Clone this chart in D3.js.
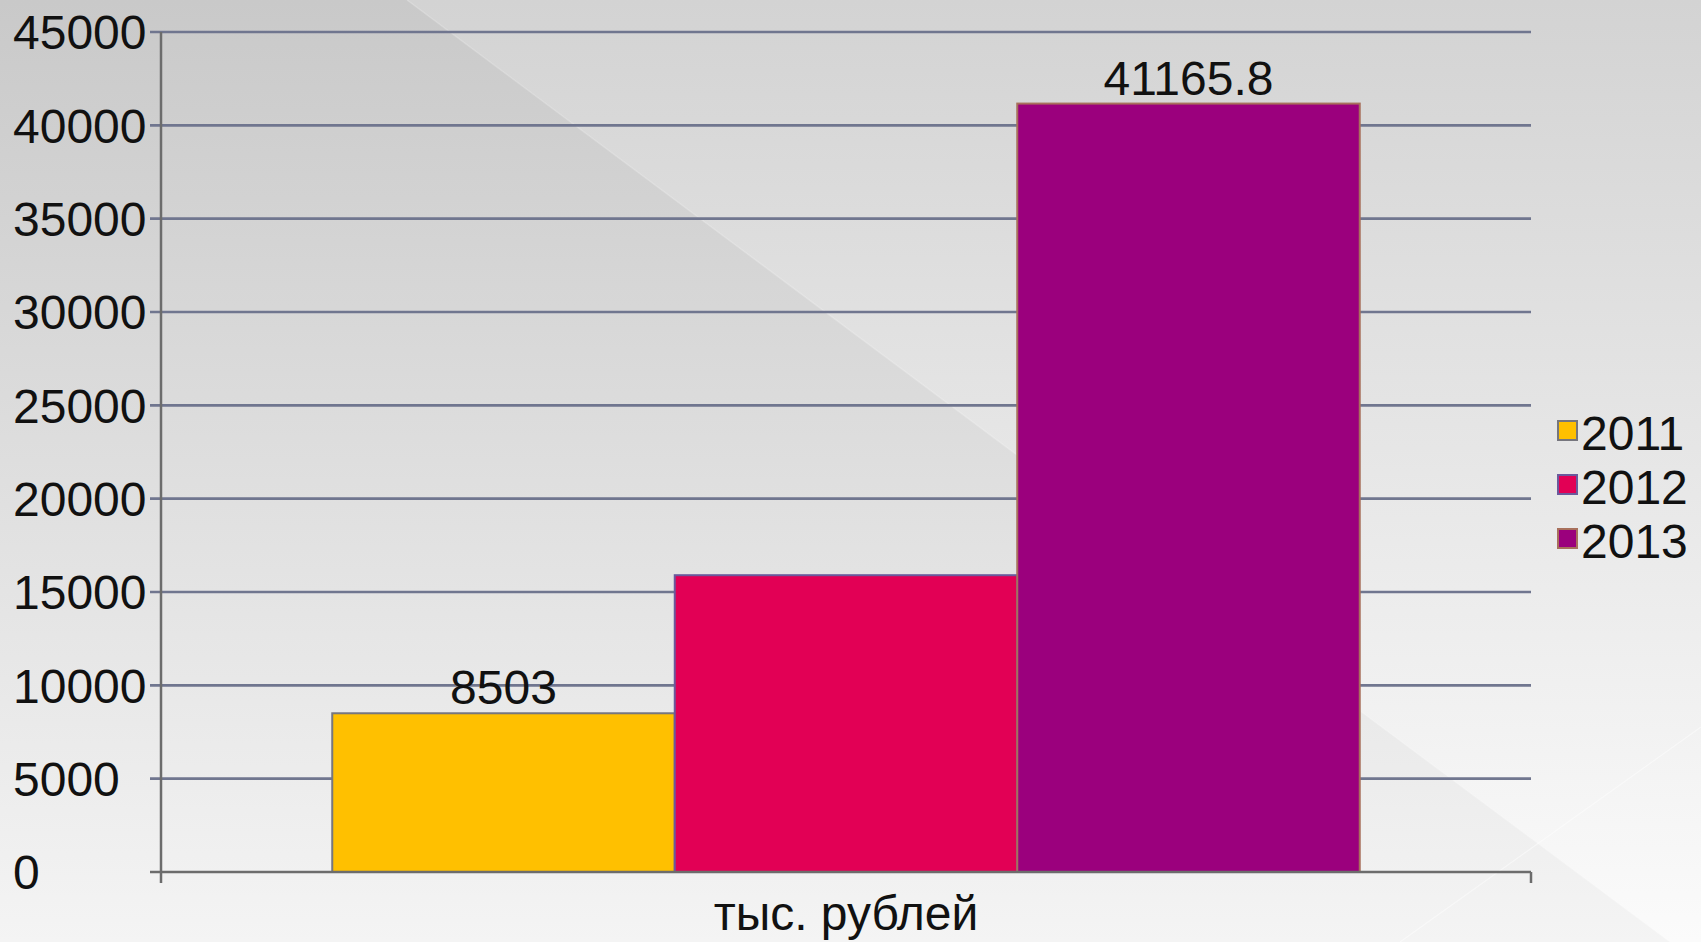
<!DOCTYPE html>
<html>
<head>
<meta charset="utf-8">
<script src="https://cdn.jsdelivr.net/npm/d3@7/dist/d3.min.js"></script>
<style>
  html, body { margin: 0; padding: 0; background: #e0e0e0; }
  svg { display: block; }
  text { font-family: "Liberation Sans", Arial, sans-serif; fill: #111; }
</style>
</head>
<body>
<script>
// ---- data ----
const categories = ["тыс. рублей"];
const years = ["2011", "2012", "2013"];
const values = [8503, 15900, 41165.8];
const showValueLabel = [true, false, true];
const valueLabels = ["8503", "15900", "41165.8"];
const yTicks = [0, 5000, 10000, 15000, 20000, 25000, 30000, 35000, 40000, 45000];
const fills = ["#FFC000", "#E20055", "#9B007D"];
const strokes = ["#76767e", "#6a5a9c", "#a8705c"];

// ---- layout ----
const W = 1701, H = 942;
const plot = { left: 161, right: 1531, top: 32, bottom: 872 };
const fontSize = 48;

const svg = d3.select("body").append("svg").attr("width", W).attr("height", H);
const defs = svg.append("defs");

// background
const g1 = defs.append("linearGradient").attr("id", "bgBase").attr("x1", 0).attr("y1", 0).attr("x2", 0).attr("y2", 1);
g1.append("stop").attr("offset", "0").attr("stop-color", "#c9c9c9");
g1.append("stop").attr("offset", "1").attr("stop-color", "#f4f4f4");
const g2 = defs.append("linearGradient").attr("id", "bgLight").attr("x1", 0).attr("y1", 0).attr("x2", 0).attr("y2", 1);
g2.append("stop").attr("offset", "0").attr("stop-color", "#d3d3d3");
g2.append("stop").attr("offset", "1").attr("stop-color", "#fbfbfb");

svg.append("rect").attr("width", W).attr("height", H).attr("fill", "url(#bgBase)");
svg.append("path")
  .attr("d", "M407,0 L1701,0 L1701,942 L1670,942 Z")
  .attr("fill", "url(#bgLight)");
svg.append("line").attr("x1", 407).attr("y1", 0).attr("x2", 1670).attr("y2", 942)
  .attr("stroke", "#ffffff").attr("stroke-opacity", 0.2).attr("stroke-width", 1.5);
svg.append("line").attr("x1", 1701).attr("y1", 727).attr("x2", 1400).attr("y2", 942)
  .attr("stroke", "#ffffff").attr("stroke-opacity", 0.45).attr("stroke-width", 1.2);

// scales
const y = d3.scaleLinear().domain([0, 45000]).range([plot.bottom, plot.top]);
const x0 = d3.scaleBand().domain(categories).range([plot.left, plot.right])
  .paddingInner(0).paddingOuter(1 / 6);
const x1 = d3.scaleBand().domain(years).range([0, x0.bandwidth()]).padding(0);

// gridlines
svg.append("g").selectAll("line").data(yTicks.filter(d => d > 0)).join("line")
  .attr("x1", plot.left - 11).attr("x2", plot.right)
  .attr("y1", d => y(d)).attr("y2", d => y(d))
  .attr("stroke", "#70768f").attr("stroke-width", 2.6);

// y tick labels (left aligned)
svg.append("g").selectAll("text").data(yTicks).join("text")
  .attr("x", 13).attr("y", d => y(d)).attr("dy", "0.36em")
  .attr("font-size", fontSize)
  .text(d => String(d));

// bars
const gBars = svg.append("g");
categories.forEach(cat => {
  gBars.selectAll("rect.bar").data(years).join("rect").attr("class", "bar")
    .attr("x", d => x0(cat) + x1(d))
    .attr("width", x1.bandwidth())
    .attr("y", (d, i) => y(values[i]))
    .attr("height", (d, i) => y(0) - y(values[i]))
    .attr("fill", (d, i) => fills[i])
    .attr("stroke", (d, i) => strokes[i])
    .attr("stroke-width", 2);
  gBars.selectAll("text.val").data(years.filter((d, i) => showValueLabel[i])).join("text").attr("class", "val")
    .attr("x", d => x0(cat) + x1(d) + x1.bandwidth() / 2)
    .attr("y", d => y(values[years.indexOf(d)]) - 9)
    .attr("text-anchor", "middle")
    .attr("font-size", fontSize)
    .text(d => valueLabels[years.indexOf(d)]);
});

// axes
svg.append("line").attr("x1", plot.left).attr("x2", plot.left)
  .attr("y1", plot.top).attr("y2", plot.bottom + 11)
  .attr("stroke", "#6c6c6c").attr("stroke-width", 2.5);
svg.append("line").attr("x1", plot.left - 11).attr("x2", plot.right)
  .attr("y1", plot.bottom).attr("y2", plot.bottom)
  .attr("stroke", "#6c6c6c").attr("stroke-width", 2.5);
svg.append("line").attr("x1", plot.right).attr("x2", plot.right)
  .attr("y1", plot.bottom).attr("y2", plot.bottom + 11)
  .attr("stroke", "#6c6c6c").attr("stroke-width", 2.5);

// category label
svg.append("g").selectAll("text").data(categories).join("text")
  .attr("x", d => x0(d) + x0.bandwidth() / 2).attr("y", 930)
  .attr("text-anchor", "middle").attr("font-size", fontSize)
  .text(d => d);

// legend
const leg = svg.append("g").attr("transform", "translate(1558,0)");
years.forEach((yr, i) => {
  const base = 450 + i * 54;
  leg.append("rect").attr("x", 0).attr("y", base - 29).attr("width", 19).attr("height", 19)
    .attr("fill", fills[i]).attr("stroke", strokes[i]).attr("stroke-width", 2);
  leg.append("text").attr("x", 23).attr("y", base).attr("font-size", fontSize).text(yr);
});
</script>
</body>
</html>
